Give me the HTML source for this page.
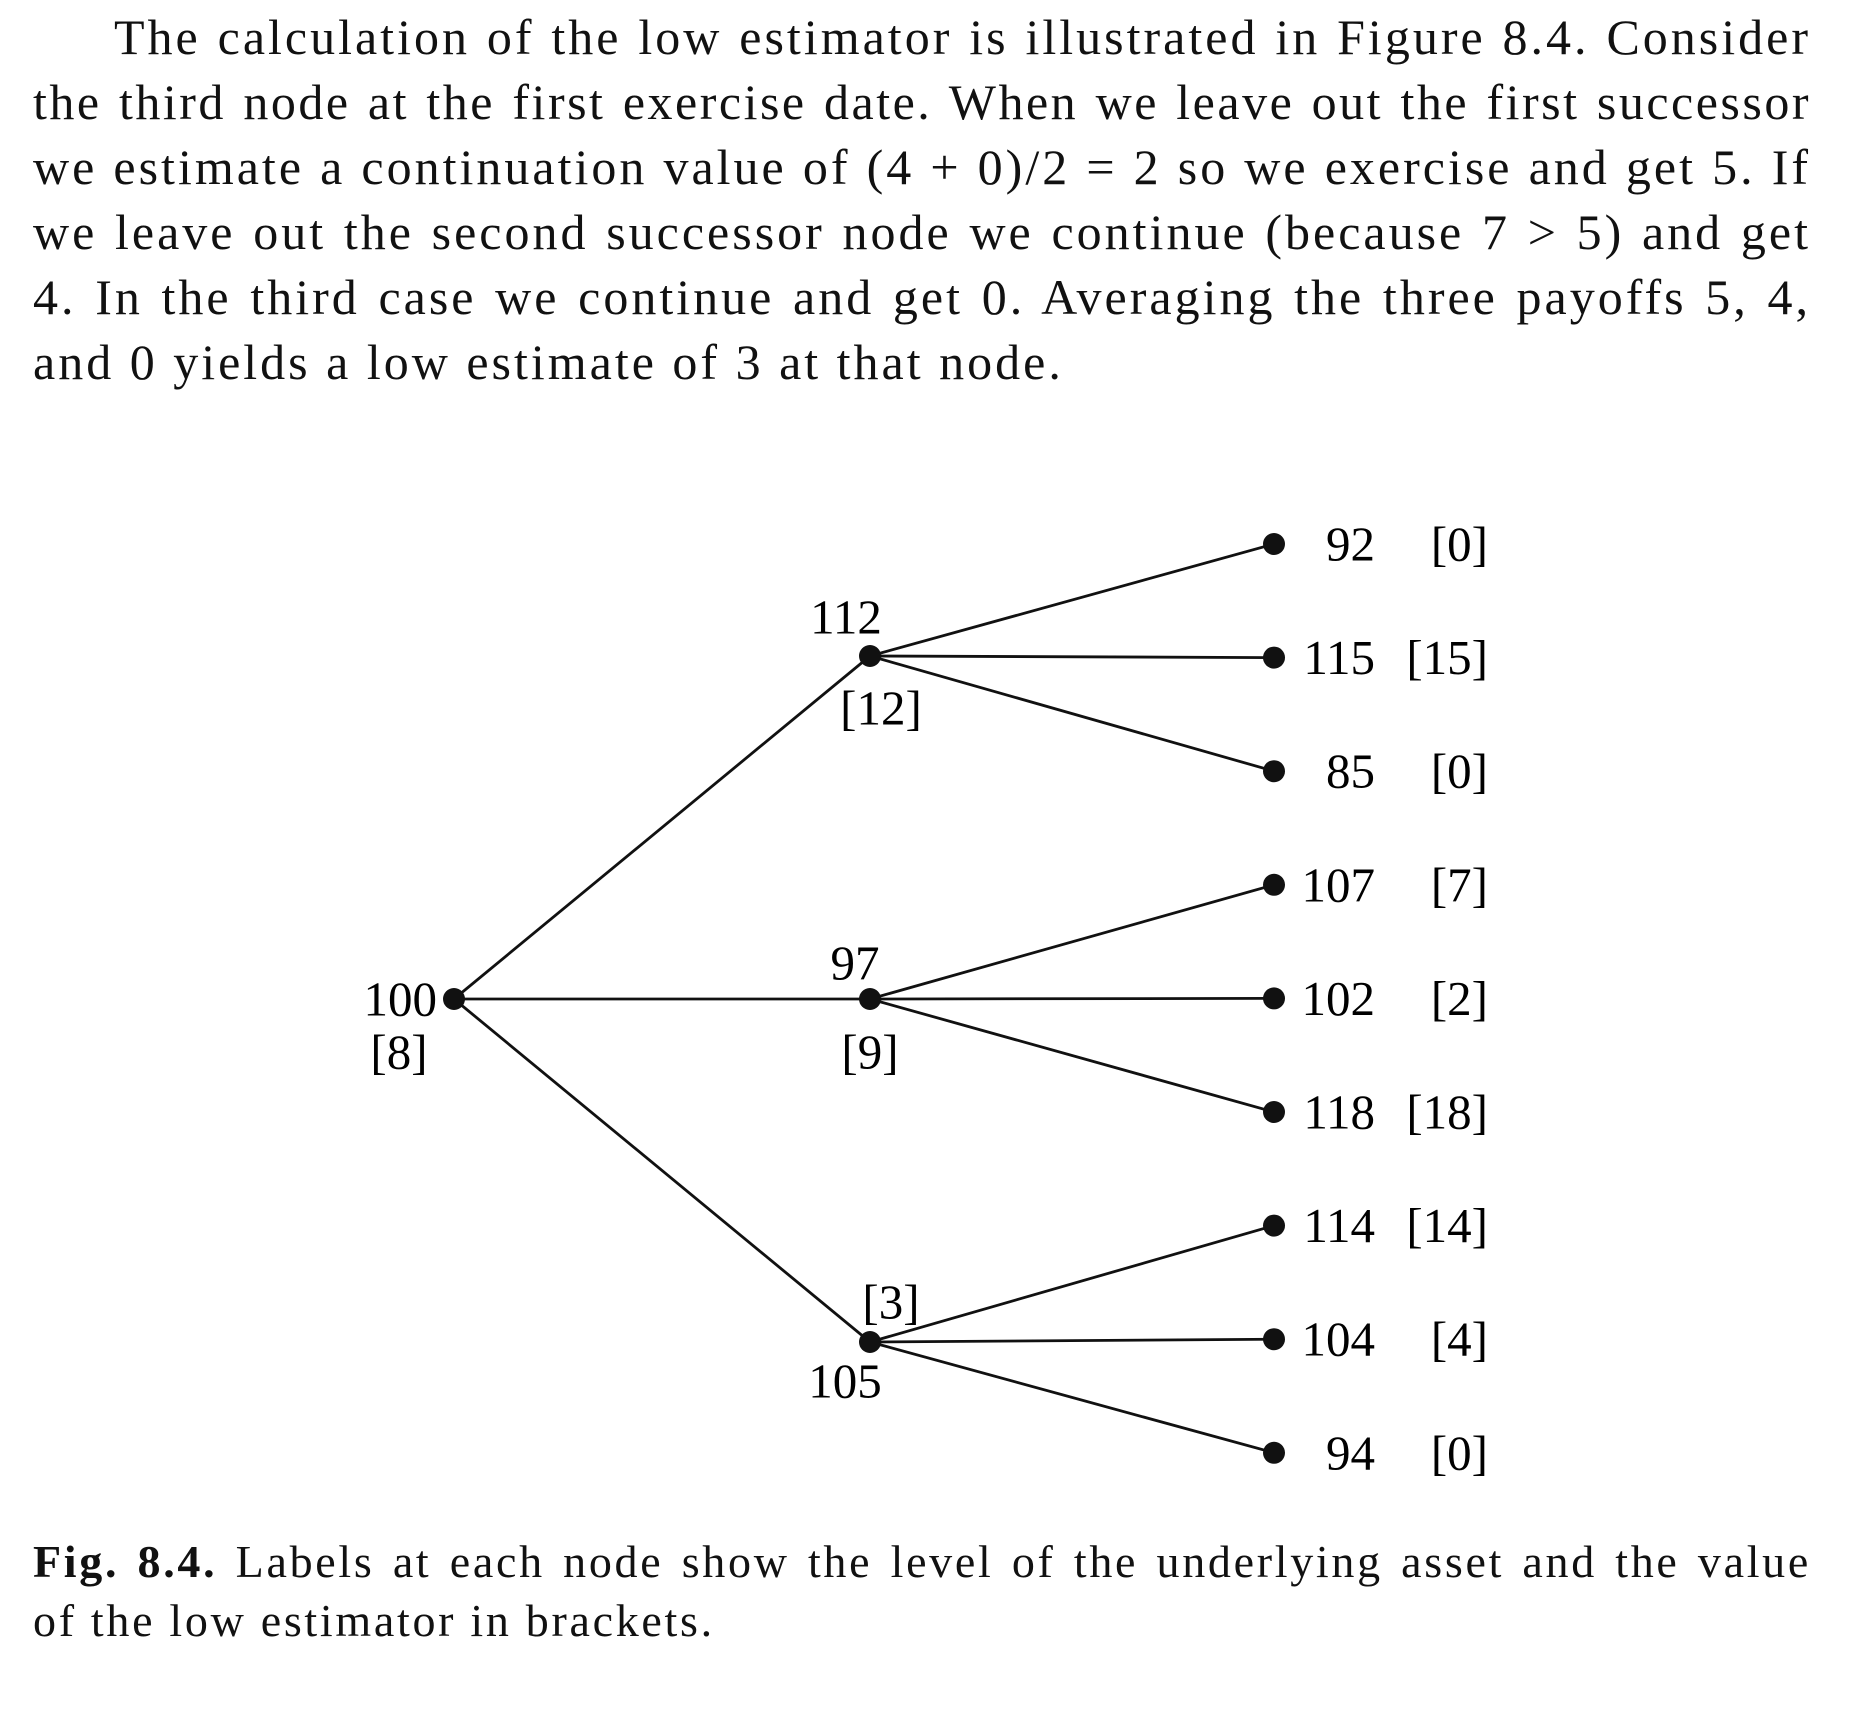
<!DOCTYPE html>
<html><head><meta charset="utf-8"><style>
body{margin:0;background:#fff;width:1850px;height:1710px;position:relative;overflow:hidden;font-family:"Liberation Serif",serif;color:#111}
.p{position:absolute;left:33px;width:1778px;font-size:50px;line-height:65px;letter-spacing:3px}
.l{text-align:justify;text-align-last:justify;height:65px;white-space:nowrap}
.last{text-align:left;text-align-last:left}
.cap{position:absolute;left:33px;width:1778px;font-size:46px;line-height:59px;top:1532px;letter-spacing:2.7px}
.cap .l{height:59px}
</style></head><body>
<div class="p" style="top:5px">
<div class="l" style="padding-left:81px">The calculation of the low estimator is illustrated in Figure 8.4. Consider</div>
<div class="l" style="letter-spacing:2.5px">the third node at the first exercise date. When we leave out the first successor</div>
<div class="l">we estimate a continuation value of (4 + 0)/2 = 2 so we exercise and get 5. If</div>
<div class="l">we leave out the second successor node we continue (because 7 &gt; 5) and get</div>
<div class="l">4. In the third case we continue and get 0. Averaging the three payoffs 5, 4,</div>
<div class="l last">and 0 yields a low estimate of 3 at that node.</div>
</div>
<svg id="tree" width="1850" height="1710" style="position:absolute;left:0;top:0" font-family="Liberation Serif, serif" font-size="49"></svg>
<div class="cap">
<div class="l"><b>Fig. 8.4.</b> Labels at each node show the level of the underlying asset and the value</div>
<div class="l last">of the low estimator in brackets.</div>
</div>
<script>
const rootLevel=100, rootValue=8;
const midLevels=[112,97,105];
const midValues=[12,9,3];
const leafLevels=[92,115,85,107,102,118,114,104,94];
const leafValues=[0,15,0,7,2,18,14,4,0];
const svg=document.getElementById('tree');
const NS='http://www.w3.org/2000/svg';
const X=[454,870,1274];
const midY=i=>656+i*343;
const leafY=j=>544+j*113.6;
function mk(t,a){const e=document.createElementNS(NS,t);for(const k in a)e.setAttribute(k,a[k]);svg.appendChild(e);return e;}
function line(x1,y1,x2,y2,n){const e=mk('line',{x1,y1,x2,y2,stroke:'#111','stroke-width':2.8});

}
function dot(x,y,n){const e=mk('circle',{cx:x,cy:y,r:11,fill:'#111'});

}
function txt(x,y,s,anchor,n){const e=mk('text',{x,y,'text-anchor':anchor,'dominant-baseline':'central'});e.textContent=s;

}
const rY=midY(1);
midLevels.forEach((lv,i)=>{
  line(X[0],rY,X[1],midY(i),'edge-root-mid'+i);
  for(let k=0;k<3;k++){const j=i*3+k;line(X[1],midY(i),X[2],leafY(j),'edge-mid'+i+'-leaf'+j);}
});
dot(X[0],rY,'root-node');
txt(437,rY,String(rootLevel),'end','root-level-label');
txt(399,rY+53,'['+rootValue+']','middle','root-value-label');
const midLab=[[ -24,-39, 11,52],[-15,-36,0,53],[-25,39,21,-40]];
midLevels.forEach((lv,i)=>{
  dot(X[1],midY(i),'mid-node-'+i);
  const o=midLab[i];
  txt(X[1]+o[0],midY(i)+o[1],String(lv),'middle','mid-level-label-'+i);
  txt(X[1]+o[2],midY(i)+o[3],'['+midValues[i]+']','middle','mid-value-label-'+i);
});
leafLevels.forEach((lv,j)=>{
  dot(X[2],leafY(j),'leaf-node-'+j);
  txt(1375,leafY(j),String(lv),'end','leaf-level-label-'+j);
  txt(1488,leafY(j),'['+leafValues[j]+']','end','leaf-value-label-'+j);
});
</script>
</body></html>
